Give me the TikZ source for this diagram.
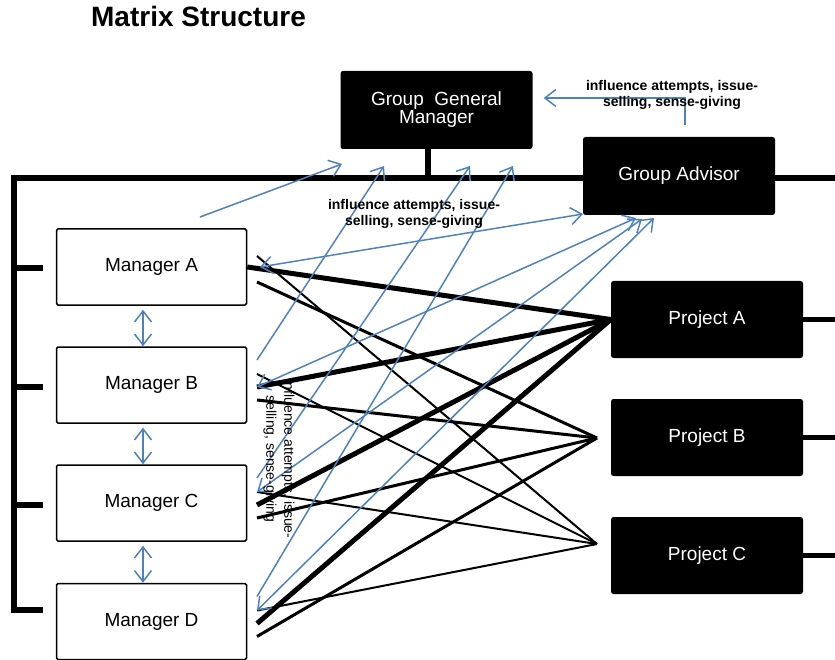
\documentclass[tikz,border=0pt]{standalone}
\usepackage{fontspec}
\setmainfont{Liberation Sans}
\usetikzlibrary{arrows.meta}
\definecolor{infblue}{RGB}{79,129,189}

\begin{document}
\begin{tikzpicture}[x=1pt,y=-1pt,
	mgrbox/.style={draw, line width=1.5pt, rounded corners=1.5pt, minimum width=190pt, minimum height=76pt, inner sep=0pt, font=\fontsize{19}{19}\selectfont},
	blkbox/.style={fill=black, text=white, rounded corners=2.5pt, minimum width=192pt, minimum height=78pt, inner sep=0pt, align=center, font=\fontsize{19}{18}\selectfont},
	bus/.style={line width=5.5pt},
	thickln/.style={line width=5pt},
	medln/.style={line width=3pt},
	thinln/.style={line width=2pt},
	infl/.style={infblue, line width=1.5pt, -{Straight Barb[length=11pt,width=17pt]}},
	inflboth/.style={infl, {Straight Barb[length=11pt,width=17pt]}-{Straight Barb[length=11pt,width=17pt]}},
	infltext/.style={align=center, font=\fontsize{14}{16}\selectfont\bfseries}]
	\useasboundingbox (0,0) rectangle (835,660);

	\node[font=\fontsize{28}{30}\selectfont\bfseries, anchor=base] (title) at (198.5,27) {Matrix Structure};

	\draw[bus] (835,178) -- (14,178) -- (14,610) -- (43,610);
	\foreach \y in {268,387,505} \draw[bus] (14,\y) -- (43,\y);

	\node[blkbox] (ggm) at (436.5,110) {Group\ \ General\\Manager};
	\coordinate (stem) at (428,178);
	\draw[bus] (stem |- ggm.south) -- (stem);
	\node[blkbox] (ga) at (679,176) {Group Advisor};

	\node[mgrbox] (mA) at (151.5,267) {Manager A};
	\node[mgrbox] (mB) at (151.5,385) {Manager B};
	\node[mgrbox] (mC) at (151.5,503) {Manager C};
	\node[mgrbox] (mD) at (151.5,621.5) {Manager D};

	\node[blkbox, minimum height=77pt] (pA) at (707,319.5) {Project A};
	\node[blkbox, minimum height=77pt] (pB) at (707,437.5) {Project B};
	\node[blkbox, minimum height=77pt] (pC) at (707,555.5) {Project C};
	\foreach \p in {pA,pB,pC} \draw[bus] (\p.east) -- ++(33,0);

	\coordinate (pBin) at (597,438);
	\coordinate (pCin) at (597,544);
	\foreach \m/\c in {A/267,B/385,C/503,D/621.5} {
		\coordinate (\m-hi) at (257,\c-11);
		\coordinate (\m-mid) at (257,\c+2);
		\coordinate (\m-lo) at (257,\c+15);
		\coordinate (\m-up) at (257,\c-25);
	}

	\draw[thickln] (mA.east) -- (pA.west);
	\foreach \m in {B,C,D} \draw[thickln] (\m-mid) -- (pA.west);
	\foreach \m in {A,B,C,D} {
		\draw[medln] (\m-lo) -- (pBin);
		\draw[thinln] (\m-hi) -- (pCin);
	}

	\coordinate (col) at (143,0);
	\draw[inflboth, shorten <=4pt] (mA.south -| col) -- (mB.north -| col);
	\draw[inflboth, shorten <=4pt] (mB.south -| col) -- (mC.north -| col);
	\draw[inflboth, shorten <=4pt] (mC.south -| col) -- (mD.north -| col);

	\coordinate (gg1) at (342,164);
	\coordinate (gg2) at (384,166);
	\coordinate (gg3) at (470,166);
	\coordinate (gg4) at (513,166);
	\coordinate (ga1) at (583,214);
	\coordinate (ga2) at (636,218);
	\coordinate (ga3) at (642,219);
	\coordinate (ga4) at (654,218);
	\coordinate (A-top) at (200,217);
	\coordinate (A-in) at (260,267);

	\draw[infl] (A-top) -- (gg1);
	\draw[infl] (B-up) -- (gg2);
	\draw[infl] (C-up) -- (gg3);
	\draw[infl] (D-up) -- (gg4);
	\draw[inflboth] (A-in) -- (ga1);
	\draw[inflboth] (B-mid) -- (ga2);
	\draw[inflboth] (C-hi) -- (ga3);
	\draw[inflboth] (D-hi) -- (ga4);

	\coordinate (gaup) at (685,125);
	\draw[infl, shorten >=11pt] (gaup) |- ([yshift=12pt]ggm.east);

	\node[infltext] (lab1) at (672,95) {influence attempts, issue-\\selling, sense-giving};
	\node[infltext] (lab2) at (414,214) {influence attempts, issue-\\selling, sense-giving};
	\node[align=center, font=\fontsize{14}{18}\selectfont, rotate=-90] (lab3) at (279,459) {influence attempts, issue-\\selling, sense-giving};
\end{tikzpicture}
\end{document}
